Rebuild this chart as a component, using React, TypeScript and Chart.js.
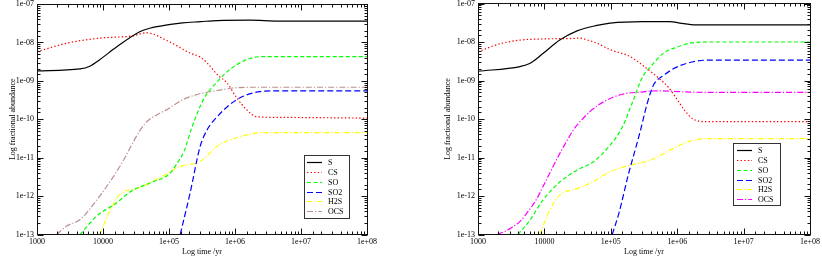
import React, { useEffect, useRef } from "react";
import { Chart, registerables } from "chart.js";

Chart.register(...registerables);

// ---------- tick labels ----------
const xTickValues = [1e3, 1e4, 1e5, 1e6, 1e7, 1e8];
const xTickLabels = ["1000", "10000", "1e+05", "1e+06", "1e+07", "1e+08"];
const yTickValues = [1e-13, 1e-12, 1e-11, 1e-10, 1e-9, 1e-8, 1e-7];
const yTickLabels = ["1e-13", "1e-12", "1e-11", "1e-10", "1e-09", "1e-08", "1e-07"];

const seriesNames = ["S", "CS", "SO", "SO2", "H2S", "OCS"];

// ---------- left panel ----------
const L_S_t = [1e3, 4.5e3, 6.3e3, 8.9e3, 1.6e4, 3.6e4, 5.1e4, 1.05e5, 1.6e5, 3e5, 5.4e5, 1.7e6, 4.5e6, 1e8];
const L_S_v = [1.82e-9, 2.04e-9, 2.4e-9, 3.55e-9, 7.6e-9, 1.9e-8, 2.34e-8, 2.95e-8, 3.24e-8, 3.47e-8, 3.7e-8, 3.8e-8, 3.6e-8, 3.6e-8];

const L_CS_t = [1e3, 2.8e3, 8.9e3, 2.8e4, 4.5e4, 1e5, 2.1e5, 2.95e5, 3.8e5, 5.4e5, 7.6e5, 1.07e6, 1.5e6, 2.1e6, 4.4e6, 1e8];
const L_CS_v = [5.75e-9, 9.5e-9, 1.29e-8, 1.48e-8, 1.78e-8, 1.05e-8, 5.25e-9, 4.2e-9, 2.9e-9, 1.45e-9, 8.7e-10, 3.55e-10, 1.78e-10, 1.17e-10, 1.12e-10, 1.07e-10];

const L_SO_t = [4.5e3, 8e3, 1.6e4, 2.6e4, 5.1e4, 1.05e5, 1.35e5, 1.7e5, 2.2e5, 3.3e5, 5.4e5, 8.3e5, 1.5e6, 2.6e6, 1e8];
const L_SO_v = [1e-13, 3e-13, 6.6e-13, 1.3e-12, 2.2e-12, 4e-12, 7.5e-12, 1.5e-11, 5.8e-11, 3.2e-10, 9.5e-10, 1.95e-9, 3.55e-9, 4.27e-9, 4.27e-9];

const L_SO2_t = [1.48e5, 2.1e5, 2.95e5, 3.8e5, 5.4e5, 8.3e5, 1.3e6, 2.4e6, 4.5e6, 1e8];
const L_SO2_v = [1e-13, 1.26e-12, 1.9e-11, 5.4e-11, 1.17e-10, 2.4e-10, 3.9e-10, 5.25e-10, 5.5e-10, 5.5e-10];

const L_H2S_t = [8.9e3, 1.3e4, 1.8e4, 3.6e4, 7.2e4, 1.48e5, 2.95e5, 5.6e5, 1e6, 1.7e6, 2.6e6, 1e8];
const L_H2S_v = [1e-13, 4.5e-13, 1.1e-12, 1.66e-12, 3e-12, 5.9e-12, 7.9e-12, 2.1e-11, 3.2e-11, 4.1e-11, 4.5e-11, 4.5e-11];

const L_OCS_t = [2e3, 2.8e3, 4.5e3, 8.9e3, 1.8e4, 3.6e4, 4.3e4, 5.1e4, 6.8e4, 9.3e4, 1.6e5, 2.95e5, 5.4e5, 9.3e5, 1.7e6, 1e8];
const L_OCS_v = [1e-13, 1.66e-13, 2.45e-13, 1e-12, 5.9e-12, 5e-11, 7.6e-11, 1e-10, 1.35e-10, 1.78e-10, 3.2e-10, 4.6e-10, 5.6e-10, 6.5e-10, 6.8e-10, 6.8e-10];

// ---------- right panel ----------
const R_S_t = [1e3, 4.3e3, 6e3, 9.5e3, 1.7e4, 3.1e4, 6.2e4, 9.8e4, 3e5, 7.8e5, 1.1e6, 1.74e6, 1e8];
const R_S_v = [1.74e-9, 2.3e-9, 2.75e-9, 5e-9, 1.12e-8, 1.95e-8, 2.7e-8, 3.1e-8, 3.4e-8, 3.4e-8, 3.1e-8, 2.8e-8, 2.8e-8];

const R_CS_t = [1e3, 2.1e3, 4.3e3, 9.5e3, 2.4e4, 3.4e4, 4.9e4, 6.2e4, 9.8e4, 1.95e5, 3e5, 5.2e5, 7.4e5, 1e6, 1.26e6, 1.74e6, 2.8e6, 1e8];
const R_CS_v = [5.6e-9, 8.9e-9, 1.12e-8, 1.2e-8, 1.23e-8, 1.26e-8, 1.07e-8, 9.3e-9, 6.3e-9, 4.2e-9, 2.5e-9, 1.17e-9, 6.6e-10, 3.2e-10, 1.78e-10, 1e-10, 8.5e-11, 8.5e-11];

const R_SO_t = [4e3, 6e3, 9.5e3, 1.7e4, 3.1e4, 5.5e4, 9.8e4, 1.5e5, 2.1e5, 3e5, 3.9e5, 6.2e5, 1e6, 1.55e6, 3.1e6, 1e8];
const R_SO_v = [1e-13, 2.3e-13, 7.8e-13, 2.3e-12, 4.7e-12, 7.8e-12, 2.1e-11, 6.3e-11, 2.6e-10, 1.23e-9, 2.2e-9, 5.1e-9, 7.4e-9, 9.3e-9, 1e-8, 1e-8];

const R_SO2_t = [1.05e5, 1.32e5, 1.86e5, 2.4e5, 2.8e5, 3.55e5, 4.4e5, 6.3e5, 1.05e6, 2e6, 3.1e6, 1e8];
const R_SO2_v = [1e-13, 3.5e-13, 3.9e-12, 1.9e-11, 5.1e-11, 2.6e-10, 7.6e-10, 1.38e-9, 2.35e-9, 3.2e-9, 3.4e-9, 3.4e-9];

const R_H2S_t = [8.5e3, 1.2e4, 1.7e4, 3.1e4, 5.4e4, 9.8e4, 1.95e5, 3.9e5, 7.8e5, 1.23e6, 2e6, 3.5e6, 1e8];
const R_H2S_v = [1e-13, 4.3e-13, 1.05e-12, 1.55e-12, 2.35e-12, 4.3e-12, 6.3e-12, 8.5e-12, 1.55e-11, 2.3e-11, 2.95e-11, 3.1e-11, 3.1e-11];

const R_OCS_t = [1.95e3, 3e3, 4.3e3, 6e3, 7.8e3, 9.5e3, 1.7e4, 2.7e4, 3.1e4, 4.9e4, 8.7e4, 1.5e5, 2.75e5, 5e5, 8.7e5, 1.55e6, 4e6, 1e8];
const R_OCS_v = [1e-13, 1.4e-13, 2.2e-13, 4.5e-13, 8.9e-13, 1.74e-12, 1.26e-11, 5e-11, 6.9e-11, 1.58e-10, 3.1e-10, 4.4e-10, 5e-10, 5.4e-10, 5.25e-10, 5e-10, 4.9e-10, 4.9e-10];

// ---------- styles ----------
const seriesStyles = [
  { color: "#000000", dash: [], width: 1.2 },
  { color: "#ff0000", dash: [1.4, 2.2], width: 1.2 },
  { color: "#00ff00", dash: [4, 2.5], width: 1.2 },
  { color: "#0000ff", dash: [6, 3], width: 1.2 },
  { color: "#ffff00", dash: [5, 2, 1.2, 2], width: 1.2 },
  { color: "#bc8f8f", dash: [6, 2, 1.2, 2], width: 1.2 },
];

const FONT = "'Liberation Serif', 'DejaVu Serif', serif";

function zip(t: number[], v: number[]) {
  return t.map((x, i) => ({ x, y: v[i] }));
}

function labelFor(value: number, vals: number[], labels: string[]) {
  const lv = Math.log10(value);
  for (let i = 0; i < vals.length; i++) {
    if (Math.abs(lv - Math.log10(vals[i])) < 1e-6) return labels[i];
  }
  return "";
}

const framePlugin = {
  id: "frameTicks",
  afterDatasetsDraw(chart: any) {
    const { ctx, chartArea } = chart;
    const l = Math.floor(chartArea.left) + 0.5;
    const r = Math.floor(chartArea.right) + 0.5;
    const t = Math.floor(chartArea.top) + 0.5;
    const b = Math.floor(chartArea.bottom) + 0.5;
    ctx.save();
    ctx.strokeStyle = "#111";
    ctx.lineWidth = 1;
    ctx.setLineDash([]);
    ctx.strokeRect(l, t, r - l, b - t);
    const isMajor = (v: number) => Math.abs(Math.log10(v) - Math.round(Math.log10(v))) < 1e-6;
    const xs = chart.scales.x;
    ctx.beginPath();
    xs.ticks.forEach((tk: any) => {
      const px = Math.round(xs.getPixelForValue(tk.value)) + 0.5;
      const len = isMajor(tk.value) ? 6 : 3;
      ctx.moveTo(px, b);
      ctx.lineTo(px, b - len);
      ctx.moveTo(px, t);
      ctx.lineTo(px, t + len);
    });
    const ys = chart.scales.y;
    ys.ticks.forEach((tk: any) => {
      const py = Math.round(ys.getPixelForValue(tk.value)) + 0.5;
      const len = isMajor(tk.value) ? 6 : 3;
      ctx.moveTo(l, py);
      ctx.lineTo(l + len, py);
      ctx.moveTo(r, py);
      ctx.lineTo(r - len, py);
    });
    ctx.stroke();
    ctx.restore();
  },
};

const boxLegendPlugin = {
  id: "boxLegend",
  afterDraw(chart: any, _args: any, opts: any) {
    const { ctx } = chart;
    ctx.save();
    ctx.fillStyle = "#ffffff";
    ctx.fillRect(opts.x, opts.y, opts.w, opts.h);
    ctx.strokeStyle = "#333";
    ctx.lineWidth = 1;
    ctx.setLineDash([]);
    ctx.strokeRect(opts.x + 0.5, opts.y + 0.5, opts.w, opts.h);
    chart.data.datasets.forEach((ds: any, i: number) => {
      const cy = Math.round(opts.firstY + i * opts.rowH) + 0.5;
      ctx.setLineDash(ds.borderDash || []);
      ctx.strokeStyle = ds.borderColor;
      ctx.lineWidth = ds.borderWidth;
      ctx.beginPath();
      ctx.moveTo(opts.lineX0, cy);
      ctx.lineTo(opts.lineX1, cy);
      ctx.stroke();
      ctx.setLineDash([]);
      ctx.fillStyle = "#000";
      ctx.font = `8px ${FONT}`;
      ctx.textBaseline = "middle";
      ctx.textAlign = "left";
      ctx.fillText(ds.label, opts.textX, cy);
    });
    ctx.restore();
  },
};

type PanelCfg = {
  series: { t: number[]; v: number[] }[];
  ocsColor: string;
  padTop: number;
  padRight: number;
  yAxisWidth: number;
  yTitlePad: number;
  legend: any;
};

const leftPanel: PanelCfg = {
  series: [
    { t: L_S_t, v: L_S_v },
    { t: L_CS_t, v: L_CS_v },
    { t: L_SO_t, v: L_SO_v },
    { t: L_SO2_t, v: L_SO2_v },
    { t: L_H2S_t, v: L_H2S_v },
    { t: L_OCS_t, v: L_OCS_v },
  ],
  ocsColor: "#bc8f8f",
  padTop: 4,
  padRight: 44,
  yAxisWidth: 37,
  yTitlePad: 8.5,
  legend: { x: 304, y: 155, w: 45, h: 63, firstY: 162.3, rowH: 9.75, lineX0: 307, lineX1: 322, textX: 328 },
};

const rightPanel: PanelCfg = {
  series: [
    { t: R_S_t, v: R_S_v },
    { t: R_CS_t, v: R_CS_v },
    { t: R_SO_t, v: R_SO_v },
    { t: R_SO2_t, v: R_SO2_v },
    { t: R_H2S_t, v: R_H2S_v },
    { t: R_OCS_t, v: R_OCS_v },
  ],
  ocsColor: "#ff00ff",
  padTop: 3.5,
  padRight: 12,
  yAxisWidth: 67,
  yTitlePad: 32.5,
  legend: { x: 322, y: 143, w: 47, h: 62, firstY: 150, rowH: 9.85, lineX0: 326, lineX1: 341, textX: 347 },
};

function Panel({ cfg, left }: { cfg: PanelCfg; left: number }) {
  const ref = useRef<HTMLCanvasElement | null>(null);
  useEffect(() => {
    if (!ref.current) return;
    Chart.defaults.font.family = FONT;
    Chart.defaults.font.size = 8;
    Chart.defaults.color = "#000";
    const datasets = cfg.series.map((s, i) => {
      const st = seriesStyles[i];
      const color = i === 5 ? cfg.ocsColor : st.color;
      return {
        label: seriesNames[i],
        data: zip(s.t, s.v),
        borderColor: color,
        backgroundColor: color,
        borderDash: st.dash,
        borderWidth: st.width,
        pointRadius: 0,
        fill: false,
        cubicInterpolationMode: "monotone" as const,
      };
    });
    const chart = new Chart(ref.current, {
      type: "line",
      data: { datasets },
      plugins: [framePlugin, boxLegendPlugin],
      options: {
        animation: false,
        responsive: false,
        devicePixelRatio: 1,
        layout: { padding: { left: 0, top: cfg.padTop, right: cfg.padRight, bottom: 0 } },
        plugins: {
          legend: { display: false },
          tooltip: { enabled: false },
          boxLegend: cfg.legend,
        } as any,
        scales: {
          x: {
            type: "logarithmic",
            min: 1e3,
            max: 1e8,
            grid: { display: false, drawTicks: false },
            border: { display: false },
            ticks: {
              autoSkip: false,
              maxRotation: 0,
              minRotation: 0,
              padding: 2.5,
              color: "#000",
              font: { size: 8, family: FONT },
              callback: (v: any) => labelFor(Number(v), xTickValues, xTickLabels),
            },
            title: {
              display: true,
              text: "Log time /yr",
              color: "#000",
              font: { size: 8, family: FONT },
              padding: { top: 0, bottom: 0 },
            },
            afterFit: (s: any) => {
              s.height = 22.5;
              s.paddingLeft = 0;
              s.paddingRight = 0;
            },
          },
          y: {
            type: "logarithmic",
            min: 1e-13,
            max: 1e-7,
            grid: { display: false, drawTicks: false },
            border: { display: false },
            ticks: {
              autoSkip: false,
              padding: 3,
              color: "#000",
              font: { size: 8, family: FONT },
              callback: (v: any) => labelFor(Number(v), yTickValues, yTickLabels),
            },
            title: {
              display: true,
              text: "Log fractional abundance",
              color: "#000",
              font: { size: 8, family: FONT },
              padding: { top: cfg.yTitlePad, bottom: 0 },
            },
            afterFit: (s: any) => {
              s.width = cfg.yAxisWidth;
              s.paddingTop = 0;
              s.paddingBottom = 0;
            },
          },
        } as any,
      },
    });
    return () => chart.destroy();
  }, [cfg]);
  return (
    <canvas
      ref={ref}
      width={411}
      height={257}
      style={{ position: "absolute", left, top: 0, width: 411, height: 257, display: "block" }}
    />
  );
}

export default function App() {
  return (
    <div style={{ position: "absolute", left: 0, top: 0, width: 822, height: 257, background: "#fff" }}>
      <Panel cfg={leftPanel} left={0} />
      <Panel cfg={rightPanel} left={411} />
    </div>
  );
}
